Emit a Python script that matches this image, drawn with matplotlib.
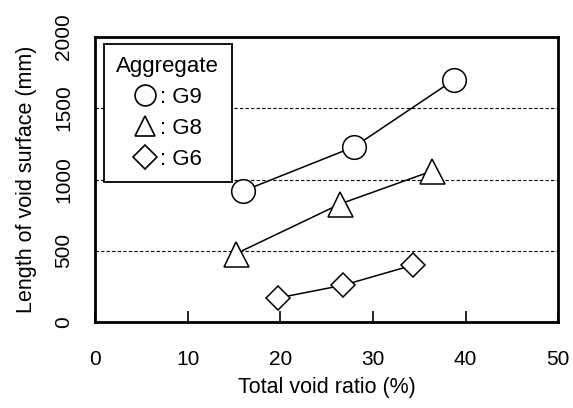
import matplotlib.pyplot as plt

plt.rcParams['font.family'] = ['Liberation Sans', 'DejaVu Sans']

g9_x = [16.0, 28.0, 38.8]
g9_y = [920, 1230, 1700]
g8_x = [15.2, 26.5, 36.4]
g8_y = [480, 830, 1060]
g6_x = [19.7, 26.8, 34.3]
g6_y = [170, 260, 400]

x_ticks = [0, 10, 20, 30, 40, 50]
y_ticks = [0, 500, 1000, 1500, 2000]

fig = plt.figure(figsize=(5.73, 4.08), dpi=100)
ax = fig.add_axes([0.166, 0.21, 0.808, 0.70])

for y in [500, 1000, 1500]:
    ax.axhline(y, color='black', lw=0.8, ls=(0, (3, 2)), zorder=1)

mk = dict(color='black', lw=1.1, markerfacecolor='white', markeredgecolor='black',
          markeredgewidth=1.1, zorder=3)
ax.plot(g9_x, g9_y, marker='o', markersize=17, label=': G9', **mk)
ax.plot(g8_x, g8_y, marker='^', markersize=18, label=': G8', **mk)
ax.plot(g6_x, g6_y, marker='D', markersize=12, label=': G6', **mk)

ax.set_xlim(0, 50)
ax.set_ylim(0, 2000)
ax.set_xticks(x_ticks)
ax.set_yticks(y_ticks)
ax.tick_params(axis='x', direction='in', length=8, width=1.2, pad=20, labelsize=15)
ax.tick_params(axis='y', length=0, pad=16, labelsize=15)
for lab in ax.get_yticklabels():
    lab.set_rotation(90)
    lab.set_va('center')
for s in ax.spines.values():
    s.set_linewidth(2)

ax.set_xlabel('Total void ratio (%)', fontsize=15.5, labelpad=6)
ax.set_ylabel('Length of void surface (mm)', fontsize=15.5, labelpad=12)

# legend: only line-less markers
handles = [plt.Line2D([], [], ls='none', marker=m, markersize=s, markerfacecolor='white',
                      markeredgecolor='black', markeredgewidth=1.2)
           for m, s in [('o', 15), ('^', 15), ('D', 12)]]
leg = ax.legend(handles, [': G9', ': G8', ': G6'], title='Aggregate', loc='upper left',
                bbox_to_anchor=(0.01, 0.99), fontsize=16, title_fontsize=16,
                handlelength=1.0, handletextpad=0.15, borderpad=0.55, labelspacing=0.45,
                borderaxespad=0.2, fancybox=False, framealpha=1, edgecolor='black')
leg.get_frame().set_linewidth(1.3)
leg.set_zorder(5)

fig.savefig('out.png', dpi=100)
